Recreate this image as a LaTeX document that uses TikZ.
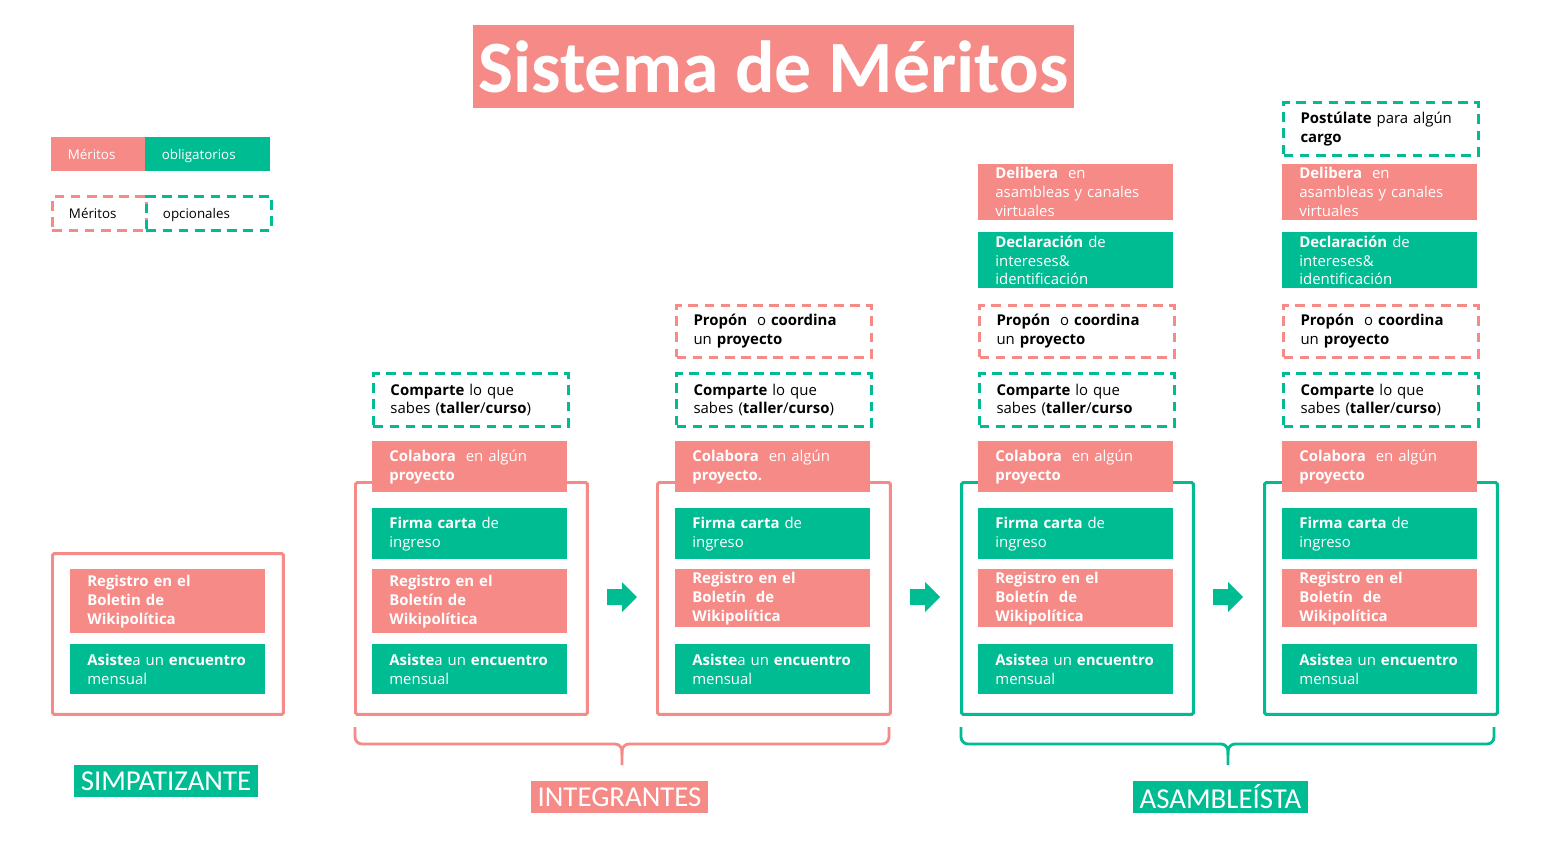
\documentclass[tikz,border=0pt]{standalone}
\usepackage{fontspec}
\setmainfont{Open Sans}
\newfontfamily\titlefont{Carlito}
\usetikzlibrary{positioning}

\definecolor{meritpink}{HTML}{F58A87}
\definecolor{meritgreen}{HTML}{00BC93}

\newcommand\boxfont{\fontsize{8.5}{10.8}\selectfont}
\newcommand\keyfont{\fontsize{7.6}{9}\selectfont}
\newcommand\stagefont{\titlefont\fontsize{16.4}{18}\selectfont}
\newcommand\meettext{\mbox{\textbf{Asiste}a un \textbf{encuentro}}\\mensual}

\begin{document}
\begin{tikzpicture}[
    x=0.02cm, y=-0.02cm,
    task/.style={rectangle, anchor=north west, minimum width=3.9cm,
                 text width=3.22cm, inner xsep=0.34cm, inner ysep=0pt,
                 align=left, font=\boxfont},
    must/.style={task, fill=#1, text=white},
    may/.style={task, draw=#1, line width=1.7pt,
                dash pattern=on 5.5pt off 3.7pt, text=black},
    frame/.style={draw=#1, line width=1.7pt, rounded corners=1pt,
                  anchor=north west, inner sep=0pt, minimum height=4.64cm},
    key/.style={anchor=north west, minimum height=0.68cm, inner xsep=0.33cm,
                inner ysep=0pt, text width=#1, text height=1.6ex,
                text depth=0.45ex, align=left, font=\keyfont},
    stage/.style={fill=#1, text=white, font=\stagefont, inner sep=0pt,
                  minimum height=0.64cm},
    brace/.style={draw=#1, line width=1.6pt, rounded corners=4pt}
]
    \useasboundingbox (0,0) rectangle (1554,853);

    % title
    \node[fill=meritpink, text=white, inner sep=0pt, minimum width=12.02cm,
          minimum height=1.66cm, font=\titlefont\bfseries\fontsize{42}{46}\selectfont]
          (title) at (773.5,66.5) {Sistema de Méritos};

    % legend
    \node[key=1.22cm, fill=meritpink, text=white] (keymust) at (51,137) {Méritos};
    \node[key=1.84cm, fill=meritgreen, text=white] (keymustb) at (145,137) {obligatorios};
    \node[key=1.22cm, draw=meritpink, line width=1.7pt,
          dash pattern=on 5.5pt off 3.7pt] (keymay) at (51,195) {Méritos};
    \node[key=1.84cm, draw=meritgreen, line width=1.7pt,
          dash pattern=on 5.5pt off 3.7pt] (keymayb) at (145,195) {opcionales};

    % frames
    \node[frame=meritpink, minimum width=4.62cm, minimum height=3.22cm] (f1) at (51,552) {};
    \node[frame=meritpink, minimum width=4.64cm] (f2) at (354,481) {};
    \node[frame=meritpink, minimum width=4.66cm] (f3) at (656,481) {};
    \node[frame=meritgreen, minimum width=4.64cm] (f4) at (960,481) {};
    \node[frame=meritgreen, minimum width=4.66cm] (f5) at (1263,481) {};

    % simpatizante
    \node[must=meritpink, minimum height=1.28cm] (s1reg) at (70,569)
        {\textbf{Registro en el}\\\textbf{Boletin de}\\\textbf{Wikipolítica}};
    \node[must=meritgreen, minimum height=1.0cm] (s1meet) at (70,644) {\meettext};

    % integrante 1
    \node[may=meritgreen, minimum height=1.06cm] (i1share) at (372,372)
        {\textbf{Comparte} lo que\\sabes (\textbf{taller}/\textbf{curso})};
    \node[must=meritpink, minimum height=1.02cm] (i1help) at (372,441)
        {\textbf{Colabora}\ \ en algún\\\textbf{proyecto}};
    \node[must=meritgreen, minimum height=1.02cm] (i1sign) at (372,508)
        {\textbf{Firma carta} de\\ingreso};
    \node[must=meritpink, minimum height=1.28cm] (i1reg) at (372,569)
        {\textbf{Registro en el}\\\textbf{Boletín de}\\\textbf{Wikipolítica}};
    \node[must=meritgreen, minimum height=1.0cm] (i1meet) at (372,644) {\meettext};

    % integrante 2
    \node[may=meritpink, minimum height=1.04cm] (i2lead) at (675,304)
        {\textbf{Propón}\ \ o \textbf{coordina}\\un \textbf{proyecto}};
    \node[may=meritgreen, minimum height=1.06cm] (i2share) at (675,372)
        {\textbf{Comparte} lo que\\sabes (\textbf{taller}/\textbf{curso})};
    \node[must=meritpink, minimum height=1.02cm] (i2help) at (675,441)
        {\textbf{Colabora}\ \ en algún\\\textbf{proyecto.}};
    \node[must=meritgreen, minimum height=1.02cm] (i2sign) at (675,508)
        {\textbf{Firma carta} de\\ingreso};
    \node[must=meritpink, minimum height=1.16cm] (i2reg) at (675,569)
        {\textbf{Registro en el}\\\textbf{Boletín\ \ de}\\\textbf{Wikipolítica}};
    \node[must=meritgreen, minimum height=1.0cm] (i2meet) at (675,644) {\meettext};

    % asambleista 1
    \node[must=meritpink, minimum height=1.12cm] (a1talk) at (978,164)
        {\textbf{Delibera}\ \ en\\asambleas y canales\\virtuales};
    \node[must=meritgreen, minimum height=1.12cm] (a1decl) at (978,232)
        {\textbf{Declaración} de\\intereses\&\\identificación};
    \node[may=meritpink, minimum height=1.04cm] (a1lead) at (978,304)
        {\textbf{Propón}\ \ o \textbf{coordina}\\un \textbf{proyecto}};
    \node[may=meritgreen, minimum height=1.06cm] (a1share) at (978,372)
        {\textbf{Comparte} lo que\\sabes (\textbf{taller}/\textbf{curso}};
    \node[must=meritpink, minimum height=1.02cm] (a1help) at (978,441)
        {\textbf{Colabora}\ \ en algún\\\textbf{proyecto}};
    \node[must=meritgreen, minimum height=1.02cm] (a1sign) at (978,508)
        {\textbf{Firma carta} de\\ingreso};
    \node[must=meritpink, minimum height=1.16cm] (a1reg) at (978,569)
        {\textbf{Registro en el}\\\textbf{Boletín\ \ de}\\\textbf{Wikipolítica}};
    \node[must=meritgreen, minimum height=1.0cm] (a1meet) at (978,644) {\meettext};

    % asambleista 2
    \node[may=meritgreen, minimum height=1.06cm] (a2run) at (1282,101)
        {\textbf{Postúlate} para algún\\\textbf{cargo}};
    \node[must=meritpink, minimum height=1.12cm] (a2talk) at (1282,164)
        {\textbf{Delibera}\ \ en\\asambleas y canales\\virtuales};
    \node[must=meritgreen, minimum height=1.12cm] (a2decl) at (1282,232)
        {\textbf{Declaración} de\\intereses\&\\identificación};
    \node[may=meritpink, minimum height=1.04cm] (a2lead) at (1282,304)
        {\textbf{Propón}\ \ o \textbf{coordina}\\un \textbf{proyecto}};
    \node[may=meritgreen, minimum height=1.06cm] (a2share) at (1282,372)
        {\textbf{Comparte} lo que\\sabes (\textbf{taller}/\textbf{curso})};
    \node[must=meritpink, minimum height=1.02cm] (a2help) at (1282,441)
        {\textbf{Colabora}\ \ en algún\\\textbf{proyecto}};
    \node[must=meritgreen, minimum height=1.02cm] (a2sign) at (1282,508)
        {\textbf{Firma carta} de\\ingreso};
    \node[must=meritpink, minimum height=1.16cm] (a2reg) at (1282,569)
        {\textbf{Registro en el}\\\textbf{Boletín\ \ de}\\\textbf{Wikipolítica}};
    \node[must=meritgreen, minimum height=1.0cm] (a2meet) at (1282,644) {\meettext};

    % block arrows between stages
    \foreach \ax in {607,910,1213}
        \fill[meritgreen] (\ax,589) -- ++(15,0) -- ++(0,-7) -- ++(15,15)
            -- ++(-15,15) -- ++(0,-7) -- ++(-15,0) -- cycle;

    % braces
    \draw[brace=meritpink] (355,727) |- (622,744) -- (622,765);
    \draw[brace=meritpink] (889,727) |- (622,744) -- (622,755);
    \draw[brace=meritgreen] (961,727) |- (1228,744) -- (1228,765);
    \draw[brace=meritgreen] (1494,727) |- (1228,744) -- (1228,755);

    % stage labels
    \node[stage=meritgreen, minimum width=3.68cm] (simp) at (166,781) {SIMPATIZANTE};
    \node[stage=meritpink, minimum width=3.54cm] (integ) at (619.5,797) {INTEGRANTES};
    \node[stage=meritgreen, minimum width=3.5cm] (asamb) at (1220.5,797) {ASAMBLEÍSTA};
\end{tikzpicture}
\end{document}
